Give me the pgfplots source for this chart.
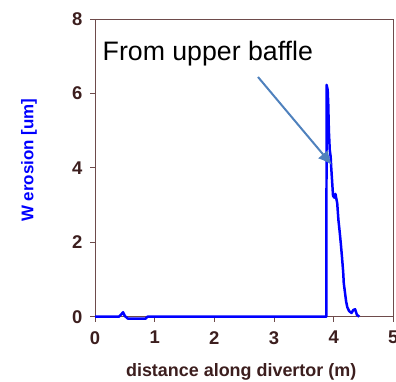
\documentclass[border=0pt]{standalone}
\usepackage{pgfplots}
\pgfplotsset{compat=1.18}
\usetikzlibrary{arrows.meta}
\usepackage{fontspec}
\setmainfont{Liberation Sans}
\definecolor{axbrown}{HTML}{6E4B4B}
\definecolor{lblbrown}{HTML}{3C1E1E}
\definecolor{arrowblue}{HTML}{4F81BD}

% W erosion profile along the divertor
\pgfplotstableread{
x y
0.00 0.00
0.40 0.00
0.44 0.06
0.47 0.12
0.50 0.02
0.55 -0.05
0.85 -0.05
0.88 0.00
3.878 0.00
3.882 6.23
3.90 6.10
3.91 5.70
3.92 5.00
3.935 4.48
3.95 4.30
3.96 4.00
3.98 3.50
3.99 3.25
4.01 3.20
4.03 3.30
4.06 3.05
4.08 2.60
4.10 2.30
4.12 1.97
4.14 1.60
4.16 1.20
4.17 0.90
4.19 0.65
4.21 0.40
4.23 0.25
4.26 0.15
4.30 0.10
4.33 0.18
4.36 0.20
4.39 0.05
4.43 0.00
}\werosion

\begin{document}
\begin{tikzpicture}[x=1bp,y=1bp]
\begin{axis}[
  at={(95bp,65.3bp)}, anchor=south west,
  scale only axis,
  width=298.3bp, height=297.7bp,
  xmin=0, xmax=5, ymin=0, ymax=8,
  xtick={0,1,2,3,4,5}, ytick={0,2,4,6,8},
  xtick pos=bottom, ytick pos=left,
  tick align=outside,
  major tick length=5bp,
  axis line style={draw=axbrown, line width=0.9pt},
  every tick/.style={draw=axbrown, line width=0.9pt},
  /pgf/number format/assume math mode=true,
  ticklabel style={font=\fontsize{18.5}{22}\selectfont\bfseries, text=lblbrown},
  xticklabel style={yshift=-6bp},
  yticklabel style={xshift=-4bp},
  xlabel={distance along divertor (m)},
  ylabel={W erosion [um]},
  xlabel style={at={(axis description cs:0.49,-0.186)}, anchor=center,
    font=\fontsize{18}{22}\selectfont\bfseries, text=lblbrown},
  ylabel style={at={(axis description cs:-0.221,0.526)}, anchor=center,
    font=\fontsize{17}{20}\selectfont\bfseries, text=blue},
  clip=false,
]
\addplot[blue, line width=2.5pt, line join=round] table[x=x,y=y] {\werosion};
\end{axis}
\node[anchor=west, font=\fontsize{26.8}{30}\selectfont, inner sep=0pt] at (102.5bp,328bp) {From upper baffle};
\draw[arrowblue, line width=2pt, -{Latex[length=14bp,width=13bp]}] (258bp,305bp) -- (332bp,217bp);
\pgfresetboundingbox
\path[use as bounding box] (0,0) rectangle (396bp,382bp);
\end{tikzpicture}
\end{document}
